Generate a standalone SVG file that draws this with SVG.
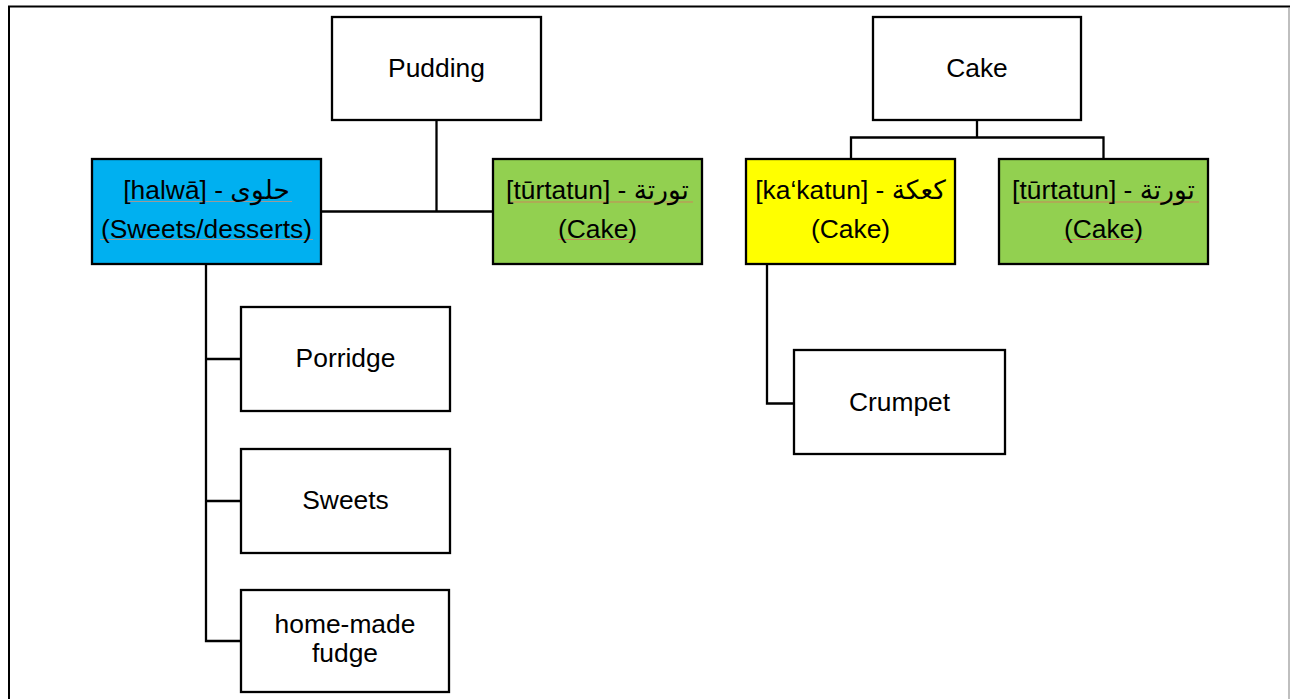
<svg xmlns="http://www.w3.org/2000/svg" width="1290" height="699" viewBox="0 0 1290 699">
  <style>
    .box { stroke: #000; stroke-width: 2.3; }
    .plain { fill: #fff; }
    .blue { fill: #00b0f0; }
    .green { fill: #92d050; }
    .yellow { fill: #ffff00; }
    .lbl { font-family: "Liberation Sans", Arial, "DejaVu Sans", sans-serif; font-size: 26.4px; fill: #000; text-anchor: middle; }
    .conn { fill: none; stroke: #000; stroke-width: 2.3; }
    .mark-grey { stroke: #9a9a9a; stroke-width: 1; }
    .mark-red { stroke: #c9875a; stroke-width: 1; }
  </style>

  <rect x="0" y="0" width="1290" height="699" fill="#fff"/>

  <!-- page frame -->
  <g id="frame">
    <line x1="8" y1="6.5" x2="1290" y2="6.5" stroke="#000" stroke-width="2"/>
    <line x1="9" y1="6" x2="9" y2="699" stroke="#000" stroke-width="2"/>
    <line x1="1289" y1="8" x2="1289" y2="699" stroke="#aaa" stroke-width="1.5"/>
  </g>

  <!-- connectors -->
  <g id="connectors">
    <path class="conn" d="M436.5 120 V211.5"/>
    <path class="conn" d="M321 211.5 H493"/>
    <path class="conn" d="M977 120 V137.5 M851 159 V137.5 H1103.5 V159"/>
    <path class="conn" d="M206 264 V641 H241 M206 359 H241 M206 501 H241"/>
    <path class="conn" d="M767 264 V403.5 H794"/>
  </g>

  <g id="pudding">
    <rect class="box plain" x="332" y="17" width="209" height="103"/>
    <text class="lbl" x="436.5" y="77">Pudding</text>
  </g>

  <g id="cake">
    <rect class="box plain" x="873" y="17" width="208" height="103"/>
    <text class="lbl" x="977" y="77">Cake</text>
  </g>

  <g id="halwa">
    <rect class="box blue" x="92" y="159" width="229" height="105"/>
    <line class="mark-grey" x1="128" y1="201.5" x2="292" y2="201.5"/>
    <line class="mark-grey" x1="100" y1="239.5" x2="313" y2="239.5"/>
    <text class="lbl" x="206.5" y="199">[halwā] - حلوى</text>
    <text class="lbl" x="206.5" y="238">(Sweets/desserts)</text>
  </g>

  <g id="turtatun-1">
    <rect class="box green" x="493" y="159" width="209" height="105"/>
    <line class="mark-red" x1="510" y1="202" x2="693" y2="202"/>
    <line class="mark-red" x1="558" y1="239.5" x2="637" y2="239.5"/>
    <text class="lbl" x="597.5" y="199">[tūrtatun] - تورتة</text>
    <text class="lbl" x="597.5" y="238">(Cake)</text>
  </g>

  <g id="kakatun">
    <rect class="box yellow" x="746" y="159" width="209" height="105"/>
    <text class="lbl" x="850.5" y="199">[ka‘katun] - كعكة</text>
    <text class="lbl" x="850.5" y="238">(Cake)</text>
  </g>

  <g id="turtatun-2">
    <rect class="box green" x="999" y="159" width="209" height="105"/>
    <line class="mark-red" x1="1016" y1="202" x2="1199" y2="202"/>
    <line class="mark-red" x1="1063" y1="239.5" x2="1143" y2="239.5"/>
    <text class="lbl" x="1103.5" y="199">[tūrtatun] - تورتة</text>
    <text class="lbl" x="1103.5" y="238">(Cake)</text>
  </g>

  <g id="porridge">
    <rect class="box plain" x="241" y="307" width="209" height="104"/>
    <text class="lbl" x="345.5" y="367">Porridge</text>
  </g>

  <g id="sweets">
    <rect class="box plain" x="241" y="449" width="209" height="104"/>
    <text class="lbl" x="345.5" y="509">Sweets</text>
  </g>

  <g id="fudge">
    <rect class="box plain" x="241" y="590" width="208" height="102"/>
    <text class="lbl" x="345" y="633">home-made</text>
    <text class="lbl" x="345" y="662">fudge</text>
  </g>

  <g id="crumpet">
    <rect class="box plain" x="794" y="350" width="211" height="104"/>
    <text class="lbl" x="899.5" y="411">Crumpet</text>
  </g>
</svg>
